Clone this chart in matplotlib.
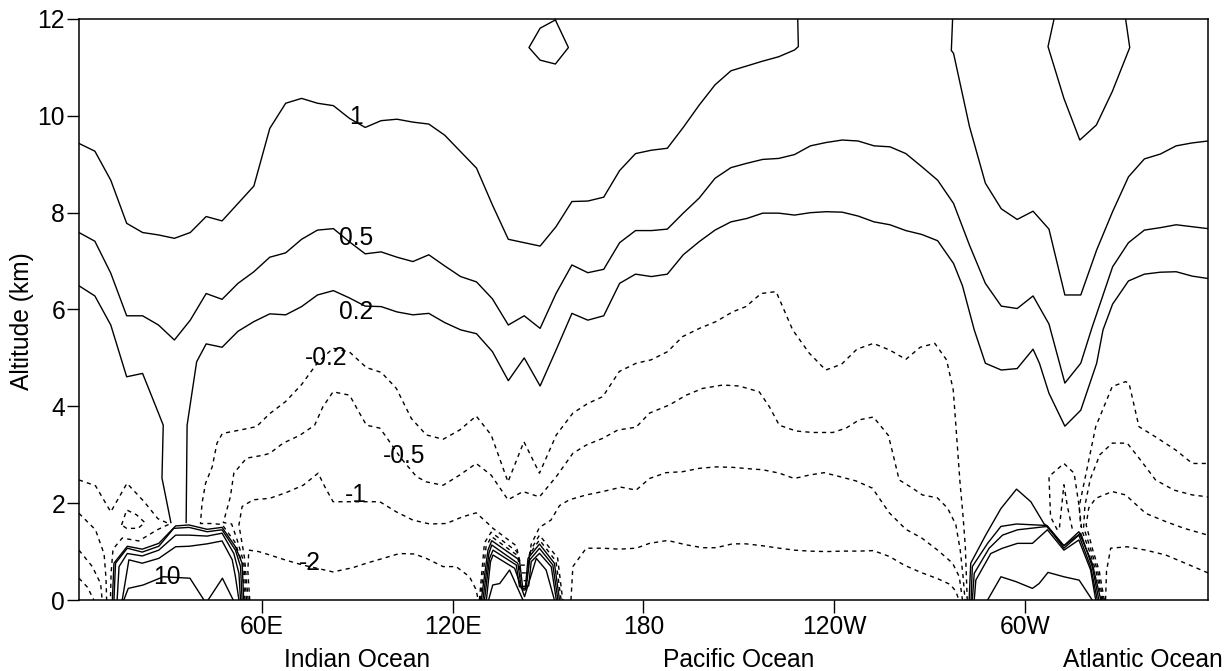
import matplotlib
matplotlib.use("Agg")
import matplotlib.pyplot as plt

plt.rcParams['font.family'] = ['Liberation Sans', 'DejaVu Sans']

# contour lines: longitude (deg E, 0-360) and altitude (km)

# level 1
c1_west_lon = [2.5, 7.5, 12.5, 17.5, 22.5, 27.5, 32.5, 37.5, 42.5, 47.5, 52.5, 57.5, 62.5, 67.5, 72.5, 77.5,
               82.5, 87.5, 92.5, 97.5, 102.5, 107.5, 112.5, 117.5, 122.5, 127.5, 130, 132.5, 137.5, 142.5,
               147.5, 152.5, 157.5, 162.5, 167.5, 172.5, 177.5, 182.5, 187.5, 192.5, 197.5, 202.5, 207.5,
               212.5, 217.5, 222.5, 227.5, 228.7, 228.5]
c1_west_alt = [9.43, 9.27, 8.67, 7.78, 7.59, 7.54, 7.47, 7.59, 7.92, 7.83, 8.19, 8.55, 9.74, 10.26, 10.36, 10.26,
               10.21, 9.95, 9.76, 9.90, 9.93, 9.87, 9.83, 9.60, 9.26, 8.92, 8.54, 8.16, 7.45, 7.38,
               7.31, 7.71, 8.23, 8.24, 8.32, 8.87, 9.22, 9.29, 9.33, 9.76, 10.22, 10.64, 10.93,
               11.03, 11.13, 11.22, 11.36, 11.43, 12.0]
c1_east_lon = [277.2, 276.8, 277.5, 282.5, 287.5, 292.5, 297.5, 302.5, 307.5, 312.5, 317.5, 322.5, 327.5,
               332.5, 337.5, 342.5, 347.5, 352.5, 357.5]
c1_east_alt = [12.0, 11.35, 11.29, 9.78, 8.61, 8.08, 7.86, 8.03, 7.66, 6.30, 6.30, 7.23, 8.02,
               8.74, 9.11, 9.21, 9.38, 9.44, 9.48]
loop_lon = [152.3, 147.5, 144.0, 147.5, 152.3, 156.4, 152.3]
loop_alt = [11.98, 11.81, 11.41, 11.15, 11.07, 11.41, 11.98]
vee_lon = [309.1, 307.2, 312.2, 317.2, 322.4, 327.4, 332.9, 331.6]
vee_alt = [12.0, 11.43, 10.36, 9.50, 9.81, 10.5, 11.41, 12.0]

# level 0.5
c05_lon = [2.5, 7.5, 12.5, 17.5, 22.5, 27.5, 32.5, 37.5, 42.5, 47.5, 52.5, 57.5, 62.5, 67.5, 72.5, 77.5, 82.5,
           87.5, 92.5, 97.5, 102.5, 107.5, 112.5, 117.5, 122.5, 127.5, 132.5, 137.5, 142.5, 147.5, 152.5,
           157.5, 162.5, 167.5, 172.5, 177.5, 182.5, 187.5, 192.5, 197.5, 202.5, 207.5, 212.5, 217.5, 222.5,
           227.5, 232.5, 237.5, 242.5, 247.5, 252.5, 257.5, 262.5, 267.5, 272.5, 277.5, 282.5, 287.5, 292.5,
           297.5, 302.5, 307.5, 312.5, 317.5, 321, 327.5, 332.5, 337.5, 342.5, 347.5, 352.5, 357.5]
c05_alt = [7.59, 7.41, 6.75, 5.87, 5.87, 5.68, 5.37, 5.78, 6.33, 6.21, 6.54, 6.78, 7.08, 7.17, 7.45, 7.64, 7.67,
           7.40, 7.15, 7.19, 7.08, 6.99, 7.13, 6.90, 6.68, 6.57, 6.22, 5.68, 5.87, 5.61, 6.33,
           6.92, 6.76, 6.83, 7.38, 7.63, 7.63, 7.66, 7.99, 8.30, 8.71, 8.93, 9.02, 9.10, 9.12,
           9.20, 9.38, 9.45, 9.50, 9.48, 9.38, 9.36, 9.22, 8.95, 8.67, 8.19, 7.33, 6.54, 6.07,
           6.02, 6.28, 5.70, 4.48, 4.89, 5.62, 6.88, 7.38, 7.64, 7.69, 7.75, 7.71, 7.67]

# level 0.2
c02_west_lon = [2.5, 7.5, 12.5, 17.5, 22.5, 27.5, 29.0, 28.6, 31.4]
c02_west_alt = [6.49, 6.28, 5.68, 4.61, 4.68, 3.86, 3.61, 2.52, 1.60]
c02_lon = [36.2, 36.5, 39.5, 42.5, 47.5, 52.5, 57.5, 62.5, 67.5, 72.5, 77.5, 82.5, 87.5, 92.5, 97.5, 102.5,
           107.5, 112.5, 117.5, 122.5, 127.5, 132.5, 137.5, 142.5, 147.5, 152.5, 157.5, 162.5, 167.5, 172.5,
           177.5, 182.5, 187.5, 192.5, 197.5, 202.5, 207.5, 212.5, 217.5, 222.5, 227.5, 232.5, 237.5, 242.5,
           247.5, 252.5, 257.5, 262.5, 267.5, 272.5, 277.5, 280.3, 284.0, 287.5, 292.5, 297.5, 302.5, 304.5,
           307.5, 312.5, 317.5, 322.5, 324.5, 327.5, 332.5, 337.5, 342.5, 347.5, 352.5, 357.5]
c02_alt = [1.60, 3.61, 4.92, 5.29, 5.22, 5.55, 5.75, 5.91, 5.89, 6.06, 6.30, 6.39, 6.24, 6.07, 6.06, 5.95,
           5.89, 5.92, 5.73, 5.58, 5.50, 5.13, 4.53, 5.00, 4.42, 5.16, 5.92, 5.78, 5.87, 6.54,
           6.73, 6.68, 6.73, 7.13, 7.40, 7.64, 7.81, 7.88, 7.99, 7.99, 7.95, 8.00, 8.02, 8.01,
           7.93, 7.81, 7.75, 7.63, 7.55, 7.42, 6.95, 6.49, 5.58, 4.89, 4.75, 4.78, 5.18, 4.89,
           4.27, 3.59, 3.92, 4.89, 5.58, 6.11, 6.59, 6.73, 6.77, 6.78, 6.69, 6.64]

# bunched solid lines over the land (Africa / Maritime continent / S. America)
afr_lon = [[13.0, 13.5, 17.7, 22.4, 27.6, 32.9, 37.1, 42.8, 47.5, 51.7, 53.8, 54.3],
           [13.5, 14.0, 17.7, 22.4, 27.6, 32.3, 37.1, 42.8, 47.5, 51.7, 53.3, 53.8],
           [14.5, 15.1, 17.7, 22.4, 27.6, 32.9, 37.1, 42.8, 47.5, 51.2, 52.8, 53.3],
           [16.1, 18.2, 22.4, 27.6, 32.9, 37.1, 42.8, 47.5, 50.7, 51.7, 52.8],
           [16.6, 18.0, 22.7, 29.0, 37.4, 41.8],
           [43.1, 47.6, 51.0]]
afr_alt = [[0.0, 0.76, 1.11, 1.05, 1.17, 1.53, 1.55, 1.46, 1.50, 1.10, 0.76, 0.0],
           [0.0, 0.76, 1.07, 0.99, 1.11, 1.48, 1.50, 1.41, 1.45, 1.03, 0.69, 0.0],
           [0.0, 0.69, 0.96, 0.91, 1.03, 1.34, 1.34, 1.32, 1.38, 0.96, 0.55, 0.0],
           [0.0, 0.83, 0.76, 0.86, 1.10, 1.11, 1.16, 1.22, 0.83, 0.48, 0.0],
           [0.0, 0.24, 0.31, 0.48, 0.45, 0.0],
           [0.0, 0.45, 0.0]]
mc_lon = [[129.0, 131.1, 132.3, 141.0, 142.1, 142.8, 143.7, 147.3, 152.0, 153.6],
          [129.5, 131.4, 132.3, 140.5, 141.6, 143.1, 144.2, 147.3, 151.5, 153.1],
          [130.0, 131.6, 132.7, 140.0, 141.0, 143.9, 144.7, 147.3, 151.0, 152.6],
          [130.6, 131.9, 132.7, 139.5, 142.6, 146.3, 149.4, 152.0],
          [131.3, 132.6, 134.8, 137.9, 142.1]]
mc_alt = [[0.0, 1.03, 1.225, 0.826, 0.207, 0.207, 0.86, 1.156, 0.757, 0.0],
          [0.0, 0.964, 1.136, 0.757, 0.241, 0.241, 0.826, 1.067, 0.723, 0.0],
          [0.0, 0.86, 1.03, 0.723, 0.275, 0.289, 0.792, 0.964, 0.688, 0.0],
          [0.0, 0.792, 0.929, 0.654, 0.069, 0.86, 0.619, 0.0],
          [0.0, 0.31, 0.34, 0.62, 0.0]]
sa_lon = [[282.4, 282.9, 287.6, 292.4, 297.3, 301.8, 306.0, 307.0, 312.2, 316.9, 321.1, 323.8],
          [283.0, 283.4, 288.2, 292.4, 297.3, 306.5, 312.2, 317.5, 321.1, 323.2],
          [283.4, 284.0, 288.7, 292.9, 297.6, 307.0, 312.2, 316.9, 320.6, 322.7],
          [284.0, 284.5, 289.2, 292.9, 297.6, 302.3, 307.0, 312.2, 316.9, 320.6, 322.2],
          [288.2, 292.4, 297.1, 302.3, 304.4, 307.2, 312.2, 317.0, 321.1]]
sa_alt = [[0.0, 0.76, 1.34, 1.89, 2.29, 2.03, 1.57, 1.53, 1.12, 1.41, 0.76, 0.0],
          [0.0, 0.69, 1.17, 1.52, 1.57, 1.54, 1.12, 1.38, 0.69, 0.0],
          [0.0, 0.55, 1.07, 1.34, 1.45, 1.52, 1.07, 1.34, 0.69, 0.0],
          [0.0, 0.41, 0.96, 1.07, 1.17, 1.17, 1.45, 1.03, 1.24, 0.62, 0.0],
          [0.0, 0.48, 0.38, 0.24, 0.34, 0.57, 0.48, 0.41, 0.0]]

# level -0.2
m02_lon = [54.7, 53.9, 51.5, 47.5, 44.0, 40.7, 41.2, 42.3, 44.4, 45.9, 47.6, 53.1, 58.3,
           62.5, 67.5, 72.5, 77.5, 82.4, 87.6, 92.9, 97.6, 102.3, 107.0,
           111.7, 117.0, 122.2, 127.4, 132.1, 137.4, 142.4, 147.3, 152.6, 157.8,
           162.5, 167.2, 172.4, 177.7, 182.4, 187.6, 192.3, 197.6, 202.8, 208.0,
           212.2, 217.0, 221.7, 226.9, 232.1, 237.3, 242.3, 247.1, 252.3, 257.5,
           262.5, 267.0, 271.6, 275.3, 277.4, 278.4, 279.5, 280.5, 281.2, 281.8]
m02_alt = [0.0, 0.75, 1.2, 1.56, 1.58, 1.58, 2.00, 2.41, 2.75, 3.24, 3.44, 3.51, 3.58,
           3.85, 4.10, 4.45, 4.90, 5.20, 5.12, 4.80, 4.70, 4.37, 3.75,
           3.41, 3.32, 3.51, 3.80, 3.41, 2.44, 3.27, 2.62, 3.41, 3.86,
           4.06, 4.20, 4.72, 4.89, 4.96, 5.13, 5.44, 5.61, 5.75, 5.95,
           6.06, 6.33, 6.37, 5.58, 5.10, 4.75, 4.87, 5.18, 5.30, 5.16,
           4.97, 5.22, 5.30, 4.96, 4.34, 3.45, 2.45, 1.72, 1.10, 0.0]
w02_lon = [2.5, 7.7, 12.5, 17.6, 23.0, 27.3, 31.0, 27.1, 21.3, 16.1, 13.2, 12.6, 12.4]
w02_alt = [2.48, 2.36, 1.82, 2.41, 2.03, 1.68, 1.57, 1.45, 1.22, 1.28, 1.05, 0.55, 0.0]
e02_lon = [324.1, 322.3, 320.0, 317.8, 317.0, 322.2, 327.4, 331.6, 332.7, 335.8, 341.0, 347.3, 352.6, 357.5]
e02_alt = [0.0, 0.6, 1.05, 1.45, 1.93, 3.58, 4.41, 4.51, 4.47, 3.58, 3.37, 3.10, 2.82, 2.82]

# level -0.5
m05_lon = [55.2, 54.3, 52.2, 50.5, 47.9, 50.1, 51.2, 55.2, 60.4, 62.5, 66.7, 71.9, 76.6, 79.2, 82.4,
           87.6, 90.2, 92.9, 97.1, 99.1, 103.5, 108.6, 111.7, 117.0, 122.2, 127.4, 132.1, 137.4,
           142.1, 147.3, 152.6, 157.8, 162.0, 167.2, 171.9, 177.7, 181.9, 188.2, 193.4, 198.6,
           204.9, 210.1, 216.4, 219.6, 222.7, 228.0, 233.2, 239.5, 243.7, 247.8, 252.3, 257.0,
           258.5, 260.4, 264.6, 267.7, 272.4, 275.6, 278.2, 279.6, 280.5, 281.1]
m05_alt = [0.0, 0.78, 1.25, 1.57, 1.60, 2.13, 2.62, 2.93, 2.99, 3.03, 3.24, 3.40, 3.61, 3.99, 4.30,
           4.23, 3.92, 3.61, 3.55, 3.37, 2.95, 2.55, 2.44, 2.37, 2.58, 2.82, 2.58, 2.07,
           2.24, 2.13, 2.55, 3.03, 3.20, 3.34, 3.51, 3.57, 3.86, 4.03, 4.23, 4.37,
           4.44, 4.42, 4.30, 3.99, 3.61, 3.49, 3.46, 3.46, 3.55, 3.72, 3.78, 3.40,
           3.00, 2.48, 2.31, 2.17, 2.11, 1.90, 1.56, 1.03, 0.48, 0.0]
w05_lon = [2.5, 7.7, 10.4, 11.0, 11.2]
w05_alt = [1.79, 1.45, 0.95, 0.45, 0.0]
e05_lon = [324.5, 322.8, 320.6, 318.4, 318.8, 320.5, 323.5, 327.4, 332.1, 336.3, 341.0, 346.8, 352.6, 357.5]
e05_alt = [0.0, 0.6, 1.05, 1.5, 1.95, 2.5, 3.0, 3.24, 3.24, 2.89, 2.48, 2.27, 2.17, 2.13]

# level -1
m1_lon = [55.7, 54.6, 52.8, 53.8, 57.3, 62.5, 67.7, 73.0, 77.7, 79.8, 82.4, 97.1, 102.3, 107.5,
          112.8, 118.0, 123.2, 127.4, 131.1, 132.3, 140.0, 141.4, 143.6, 144.7, 147.3, 150.9,
          153.6, 156.7, 162.0, 167.2, 173.0, 177.7, 181.9, 187.1, 192.3, 197.6, 202.8, 208.0,
          213.3, 217.5, 222.7, 227.4, 232.1, 236.8, 241.6, 246.8, 252.0, 255.2, 257.3, 262.5,
          267.5, 272.5, 277.2, 279.3, 280.3]
m1_alt = [0.0, 0.85, 1.55, 1.93, 2.07, 2.10, 2.22, 2.37, 2.62, 2.34, 2.03, 2.03, 1.82, 1.65,
          1.57, 1.58, 1.72, 1.80, 1.58, 1.50, 1.12, 0.72, 0.72, 1.15, 1.50, 1.65,
          1.95, 2.07, 2.17, 2.24, 2.33, 2.27, 2.51, 2.63, 2.65, 2.72, 2.75, 2.74,
          2.71, 2.69, 2.62, 2.51, 2.58, 2.63, 2.55, 2.46, 2.31, 2.00, 1.80, 1.46,
          1.28, 1.03, 0.76, 0.48, 0.0]
w1_lon = [2.5, 6.7, 9.3, 9.8]
w1_alt = [1.03, 0.69, 0.34, 0.0]
e1_lon = [324.9, 323.3, 321.2, 319.2, 320.0, 322.2, 327.4, 331.6, 337.9, 344.2, 350.0, 357.5]
e1_alt = [0.0, 0.6, 1.05, 1.55, 1.9, 2.1, 2.24, 2.17, 1.79, 1.62, 1.48, 1.34]

# level -2
m2a_lon = [56.2, 55.6, 55.9, 59.0, 62.5, 67.7, 73.0, 82.4, 88.7, 92.9, 98.1, 103.3, 108.0, 111.7,
           117.0, 121.1, 125.3, 127.4, 128.0]
m2a_alt = [0.0, 0.6, 1.03, 1.00, 0.93, 0.82, 0.72, 0.58, 0.67, 0.76, 0.86, 0.96, 0.95, 0.86,
           0.69, 0.69, 0.48, 0.21, 0.0]
m2b_lon = [157.2, 157.8, 162.0, 167.2, 172.4, 177.7, 181.9, 187.6, 193.4, 198.6, 202.8, 208.0, 212.2,
           217.5, 222.7, 227.4, 232.1, 237.4, 242.6, 247.8, 252.3, 257.3, 262.0, 267.2, 272.5, 276.5,
           278.2, 279.2]
m2b_alt = [0.0, 0.69, 1.07, 1.07, 1.05, 1.07, 1.17, 1.23, 1.14, 1.08, 1.08, 1.16, 1.16,
           1.12, 1.07, 1.03, 1.01, 1.00, 1.01, 1.01, 1.02, 0.90, 0.72, 0.57, 0.44, 0.32,
           0.18, 0.0]
w2_lon = [2.5, 5.1, 7.2]
w2_alt = [0.45, 0.27, 0.0]
e2_lon = [325.3, 325.6, 326.9, 332.1, 337.9, 344.2, 350.0, 357.5]
e2_alt = [0.0, 0.6, 1.07, 1.10, 1.03, 0.93, 0.77, 0.56]

# other dashed pieces next to the land
small_loop_lon = [15.9, 17.5, 20.6, 23.2, 21.1, 17.5, 15.9]
small_loop_alt = [1.55, 1.86, 1.76, 1.60, 1.48, 1.48, 1.55]
mc_dash_lon = [[128.7, 130.5, 132.2, 140.6, 141.7, 143.3, 144.2, 147.3, 152.5, 154.1],
               [128.4, 130.0, 132.1, 140.2, 141.3, 143.6, 144.6, 147.3, 153.0, 154.6]]
mc_dash_alt = [[0.0, 1.10, 1.31, 0.91, 0.40, 0.40, 0.95, 1.24, 0.80, 0.0],
               [0.0, 1.18, 1.40, 1.00, 0.56, 0.56, 1.04, 1.34, 0.87, 0.0]]
sa_dash_lon = [[310.1, 308.0, 307.5, 312.2, 315.4, 317.0, 317.5],
               [310.8, 312.2, 313.3, 314.9]]
sa_dash_alt = [[1.45, 1.72, 2.55, 2.82, 2.62, 1.93, 1.51],
               [1.5, 2.38, 1.93, 1.45]]

# contour labels
label_text = ['1', '0.5', '0.2', '-0.2', '-0.5', '-1', '-2', '10']
label_lon = [89.7, 89.7, 89.7, 80.1, 104.6, 89.7, 75.1, 30.0]
label_alt = [9.98, 7.47, 5.95, 5.0, 2.98, 2.17, 0.76, 0.48]

xtick_pos = [60, 120, 180, 240, 300]
xtick_lab = ['60E', '120E', '180', '120W', '60W']
ocean_names = ['Indian Ocean', 'Pacific Ocean', 'Atlantic Ocean']
ocean_lon = [90, 210, 337]

fig = plt.figure(figsize=(12.3, 6.71), dpi=100)
ax = fig.add_axes([0.0642, 0.1058, 0.9179, 0.8659])

solid = dict(color='black', lw=1.0)
dashed = dict(color='black', lw=1.0, ls=(0, (3, 3)))

for lo, al in [(c1_west_lon, c1_west_alt), (c1_east_lon, c1_east_alt), (loop_lon, loop_alt),
               (vee_lon, vee_alt), (c05_lon, c05_alt), (c02_west_lon, c02_west_alt), (c02_lon, c02_alt)]:
    ax.plot(lo, al, **solid)
for lo, al in zip(afr_lon + mc_lon + sa_lon, afr_alt + mc_alt + sa_alt):
    ax.plot(lo, al, **solid)

for lo, al in [(m02_lon, m02_alt), (w02_lon, w02_alt), (e02_lon, e02_alt),
               (m05_lon, m05_alt), (w05_lon, w05_alt), (e05_lon, e05_alt),
               (m1_lon, m1_alt), (w1_lon, w1_alt), (e1_lon, e1_alt),
               (m2a_lon, m2a_alt), (m2b_lon, m2b_alt), (w2_lon, w2_alt), (e2_lon, e2_alt),
               (small_loop_lon, small_loop_alt)]:
    ax.plot(lo, al, **dashed)
for lo, al in zip(mc_dash_lon + sa_dash_lon, mc_dash_alt + sa_dash_alt):
    ax.plot(lo, al, **dashed)

fs = 17.7
for t, lo, al in zip(label_text, label_lon, label_alt):
    ax.text(lo, al, t, fontsize=fs, ha='center', va='center')

ax.set_xlim(2.5, 357.5)
ax.set_ylim(0, 12)
ax.set_xticks(xtick_pos)
ax.set_xticklabels(xtick_lab)
ax.set_yticks(range(0, 13, 2))
ax.tick_params(direction='out', length=9, width=1.0, labelsize=fs, top=False, right=False)
ax.tick_params(axis='y', pad=1)
ax.tick_params(axis='x', pad=2)
for s in ax.spines.values():
    s.set_linewidth(1.1)

ax.set_ylabel('Altitude (km)', fontsize=fs)
ax.yaxis.set_label_coords(-0.040, 0.48)

for name, lo in zip(ocean_names, ocean_lon):
    ax.text(lo, -0.115, name, transform=ax.get_xaxis_transform(), fontsize=fs,
            ha='center', va='baseline', clip_on=False)

fig.savefig('out.png', dpi=100)
